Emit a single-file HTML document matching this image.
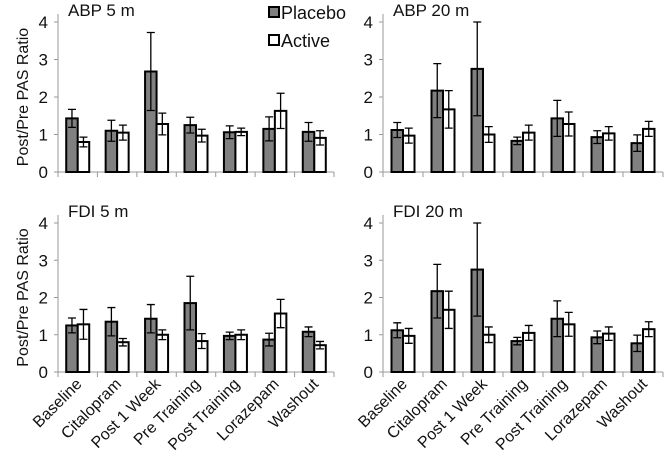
<!DOCTYPE html>
<html><head><meta charset="utf-8"><style>
html,body{margin:0;padding:0;background:#fff;}
svg{display:block;font-family:"Liberation Sans",Arial,sans-serif;}
</style></head><body>
<svg id="chart" width="666" height="458" viewBox="0 0 666 458"></svg>
<script>
const categories=["Baseline","Citalopram","Post 1 Week","Pre Training","Post Training","Lorazepam","Washout"];
const yTicks=[0,1,2,3,4];
const abp5Placebo=[1.43,1.1,2.68,1.25,1.06,1.15,1.07];
const abp5PlaceboErr=[0.24,0.28,1.04,0.21,0.17,0.32,0.25];
const abp5Active=[0.8,1.05,1.28,0.97,1.07,1.63,0.91];
const abp5ActiveErr=[0.13,0.2,0.29,0.17,0.1,0.47,0.19];
const abp20Placebo=[1.12,2.17,2.75,0.83,1.43,0.93,0.77];
const abp20PlaceboErr=[0.2,0.72,1.25,0.1,0.48,0.17,0.22];
const abp20Active=[0.97,1.67,1.0,1.05,1.28,1.03,1.15];
const abp20ActiveErr=[0.2,0.5,0.21,0.2,0.32,0.18,0.2];
const fdi5Placebo=[1.25,1.35,1.43,1.85,0.97,0.87,1.08];
const fdi5PlaceboErr=[0.2,0.38,0.38,0.72,0.1,0.17,0.13];
const fdi5Active=[1.28,0.8,1.0,0.83,1.0,1.57,0.72];
const fdi5ActiveErr=[0.4,0.1,0.13,0.2,0.13,0.38,0.1];
const fdi20Placebo=[1.12,2.17,2.75,0.83,1.43,0.93,0.77];
const fdi20PlaceboErr=[0.2,0.72,1.25,0.1,0.48,0.17,0.22];
const fdi20Active=[0.97,1.67,1.0,1.05,1.28,1.03,1.15];
const fdi20ActiveErr=[0.2,0.5,0.21,0.2,0.32,0.18,0.2];

const NS="http://www.w3.org/2000/svg";
const svg=document.getElementById('chart');
function mk(tag,attrs,parent){const e=document.createElementNS(NS,tag);for(const k in attrs)e.setAttribute(k,attrs[k]);(parent||svg).appendChild(e);return e;}

const panels=[
 {id:'abp-5m',title:'ABP 5 m',x0:58,x1:334,y0:172,y4:22,p:abp5Placebo,pe:abp5PlaceboErr,a:abp5Active,ae:abp5ActiveErr,ylab:true,xlab:false,legend:true},
 {id:'abp-20m',title:'ABP 20 m',x0:383,x1:663,y0:172,y4:22,p:abp20Placebo,pe:abp20PlaceboErr,a:abp20Active,ae:abp20ActiveErr,ylab:false,xlab:false},
 {id:'fdi-5m',title:'FDI 5 m',x0:58,x1:334,y0:372,y4:223,p:fdi5Placebo,pe:fdi5PlaceboErr,a:fdi5Active,ae:fdi5ActiveErr,ylab:true,xlab:true},
 {id:'fdi-20m',title:'FDI 20 m',x0:383,x1:663,y0:372,y4:223,p:fdi20Placebo,pe:fdi20PlaceboErr,a:fdi20Active,ae:fdi20ActiveErr,ylab:false,xlab:true}
];
panels.forEach(P=>{
 const g=mk('g',{});
 
 
 const n=categories.length, cw=(P.x1-P.x0)/n;
 const y=v=>P.y0+(P.y4-P.y0)*v/4;
 const xc=i=>P.x0+cw*(i+0.5);
 const ax=mk('line',{x1:P.x0,y1:P.y0,x2:P.x0,y2:P.y4-8,stroke:'#999','stroke-width':1},g);
 
 
 const bx=mk('line',{x1:P.x0-4,y1:P.y0,x2:P.x1,y2:P.y0,stroke:'#999','stroke-width':1},g);
 
 
 yTicks.forEach(t=>{
  mk('line',{x1:P.x0-4,x2:P.x0,y1:y(t),y2:y(t),stroke:'#999'},g);
  const tl=mk('text',{x:P.x0-10,y:y(t)+6,'text-anchor':'end','font-size':17,fill:'#111'},g);
  tl.textContent=t;
  
  
 });
 for(let i=0;i<=n;i++) mk('line',{x1:P.x0+cw*i,x2:P.x0+cw*i,y1:P.y0,y2:P.y0+5,stroke:'#999'},g);
 const bw=11.5;
 categories.forEach((c,i)=>{
  [[P.p,P.pe,'#808080',-1,'placebo'],[P.a,P.ae,'#fff',0,'active']].forEach(([vals,errs,fill,off,nm])=>{
   const bx0=xc(i)+off*bw, v=vals[i], e=errs[i];
   const r=mk('rect',{x:bx0,y:y(v),width:bw,height:P.y0-y(v),fill:fill,stroke:'#000','stroke-width':2},g);
   
   
   const cx=bx0+bw/2;
   const eb=mk('path',{d:`M${cx},${y(v-e)}V${y(v+e)}M${cx-4},${y(v-e)}H${cx+4}M${cx-4},${y(v+e)}H${cx+4}`,stroke:'#000','stroke-width':1.3,fill:'none'},g);
   
   
  });
  if(P.xlab){
   const tx=xc(i)+5, ty=P.y0+13;
   const t=mk('text',{x:tx,y:ty,'text-anchor':'end','font-size':16,fill:'#111',transform:`rotate(-45 ${tx} ${ty})`},g);
   t.textContent=c;
   
   
  }
 });
 const tt=mk('text',{x:P.x0+10,y:P.y4-6,'font-size':17,fill:'#111'},g);
 tt.textContent=P.title;
 
 
 if(P.ylab){
  const cy=(P.y0+P.y4)/2;
  const yl=mk('text',{x:22,y:cy,'text-anchor':'middle','font-size':16,fill:'#111',transform:`rotate(-90 22 ${cy}) translate(0 6)`},g);
  yl.textContent='Post/Pre PAS Ratio';
  
  
 }
 if(P.legend){
  [['Placebo','#808080',7],['Active','#fff',35]].forEach(([l,f,yy])=>{
   const lg=mk('g',{},g);
   
   
   mk('rect',{x:269,y:yy,width:10,height:10,fill:f,stroke:'#000','stroke-width':2},lg);
   const lt=mk('text',{x:281,y:yy+12,'font-size':18,fill:'#111'},lg);
   lt.textContent=l;
  });
 }
});
</script>
</body></html>
